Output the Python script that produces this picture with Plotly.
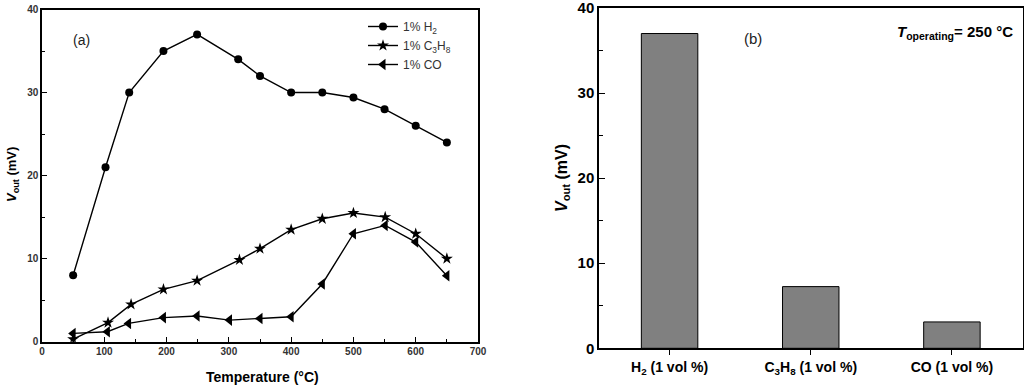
import plotly.graph_objects as go

# ---- data: panel (a) ----
temp_h2 = [50, 102, 140, 195, 249, 315, 350, 400, 450, 500, 550, 600, 650]
v_h2 = [8.0, 21.0, 30.0, 35.0, 37.0, 34.0, 32.0, 30.0, 30.0, 29.4, 28.0, 26.0, 24.0]

temp_c3h8 = [50, 106, 143, 195, 249, 317, 350, 400, 450, 500, 551, 600, 650]
v_c3h8 = [0.3, 2.3, 4.5, 6.3, 7.35, 9.85, 11.2, 13.5, 14.8, 15.5, 15.0, 13.0, 10.0]

temp_co = [50, 105, 139, 195, 249, 301, 350, 400, 450, 500, 551, 600, 650]
v_co = [1.0, 1.2, 2.2, 2.9, 3.1, 2.6, 2.8, 3.0, 6.95, 13.0, 14.0, 12.0, 7.95]

legend_names = ["1% H<sub>2</sub>", "1% C<sub>3</sub>H<sub>8</sub>", "1% CO"]

# ---- data: panel (b) ----
gas_labels = ["<b>H<sub>2</sub> (1 vol %)</b>", "<b>C<sub>3</sub>H<sub>8</sub> (1 vol %)</b>", "<b>CO (1 vol %)</b>"]
gas_values = [37.0, 7.25, 3.1]

FONT = "Arial, Liberation Sans, sans-serif"

fig = go.Figure()

line_style = dict(color="black", width=1.4)
fig.add_trace(go.Scatter(x=temp_h2, y=v_h2, name=legend_names[0], mode="lines+markers",
                         line=line_style, marker=dict(symbol="circle", size=8, color="black"),
                         xaxis="x", yaxis="y"))
fig.add_trace(go.Scatter(x=temp_c3h8, y=v_c3h8, name=legend_names[1], mode="lines+markers",
                         line=line_style, marker=dict(symbol="star", size=9, color="black"),
                         xaxis="x", yaxis="y"))
fig.add_trace(go.Scatter(x=temp_co, y=v_co, name=legend_names[2], mode="lines+markers",
                         line=line_style, marker=dict(symbol="triangle-left", size=10, color="black"),
                         xaxis="x", yaxis="y"))

fig.add_trace(go.Bar(x=gas_labels, y=gas_values, width=0.4, showlegend=False,
                     marker=dict(color="#808080", line=dict(color="black", width=1)),
                     xaxis="x2", yaxis="y2"))

axis_common = dict(showline=True, linecolor="black", linewidth=1.5, mirror=True,
                   showgrid=False, zeroline=False, automargin=False,
                   ticklabeloverflow="allow")

fig.update_layout(
    template="none",
    width=1024, height=386,
    margin=dict(l=0, r=0, t=0, b=0, autoexpand=False),
    paper_bgcolor="white", plot_bgcolor="white",
    font=dict(family=FONT, color="black"),
    showlegend=True,
    xaxis=dict(domain=[42/1024, 478/1024], range=[0, 700], dtick=100, tick0=0,
               ticks="inside", ticklen=5, tickwidth=1, tickcolor="black",
               minor=dict(ticks="inside", dtick=50, ticklen=3, tickcolor="black", showgrid=False),
               tickfont=dict(size=10, color="#333333", family=FONT, weight="bold"),
               anchor="y", **axis_common),
    yaxis=dict(domain=[1-341.7/386, 1-9.5/386], range=[0, 40], dtick=10, tick0=0,
               ticks="inside", ticklen=5, tickwidth=1, tickcolor="black",
               minor=dict(ticks="inside", dtick=5, ticklen=3, tickcolor="black", showgrid=False),
               tickfont=dict(size=10, color="#333333", family=FONT, weight="bold"),
               anchor="x", **axis_common),
    xaxis2=dict(domain=[599/1024, 1022.5/1024], range=[-0.5, 2.5], type="category",
                ticks="outside", ticklen=5, tickwidth=1, tickcolor="black",
                tickfont=dict(size=14, color="black", family=FONT),
                anchor="y2", **axis_common),
    yaxis2=dict(domain=[1-348.3/386, 1-8/386], range=[0, 40], dtick=10, tick0=0,
                ticks="inside", ticklen=6, tickwidth=1, tickcolor="black",
                minor=dict(ticks="inside", dtick=5, ticklen=4, tickcolor="black", showgrid=False),
                tickfont=dict(size=15, color="black", family=FONT, weight="bold"),
                anchor="x2", **axis_common),
    legend=dict(x=363/1024, y=1-12/386, xanchor="left", yanchor="top",
                bgcolor="rgba(0,0,0,0)", font=dict(size=12, color="#333333", family=FONT),
                itemwidth=30, tracegroupgap=0),
    bargap=0.6,
)

annotations = [
    dict(text="(a)", x=81/1024, y=1-40/386, xref="paper", yref="paper", showarrow=False,
         xanchor="center", yanchor="middle", font=dict(size=14, color="#222222")),
    dict(text="(b)", x=753/1024, y=1-38/386, xref="paper", yref="paper", showarrow=False,
         xanchor="center", yanchor="middle", font=dict(size=15, color="#222222")),
    dict(text="<b><i>T</i></b><sub><b>operating</b></sub><b>= 250 °C</b>",
         x=1015/1024, y=1-33/386, xref="paper", yref="paper", showarrow=False,
         xanchor="right", yanchor="middle", font=dict(size=15, color="black")),
    dict(text="<b><i>V</i></b><sub><b>out</b></sub><b> (mV)</b>", x=12/1024, y=1-175/386,
         xref="paper", yref="paper", showarrow=False, textangle=-90,
         xanchor="center", yanchor="middle", font=dict(size=13, color="black")),
    dict(text="<b><i>V</i></b><sub><b>out</b></sub><b> (mV)</b>", x=562/1024, y=1-178/386,
         xref="paper", yref="paper", showarrow=False, textangle=-90,
         xanchor="center", yanchor="middle", font=dict(size=16, color="black")),
    dict(text="<b>Temperature (°C)</b>", x=262/1024, y=1-377/386, xref="paper", yref="paper",
         showarrow=False, xanchor="center", yanchor="middle", font=dict(size=14, color="black")),
]
fig.update_layout(annotations=annotations)

fig.write_html("out.html", config={"displayModeBar": False},
               post_script="document.body.style.margin='0';document.body.style.overflow='hidden';")
